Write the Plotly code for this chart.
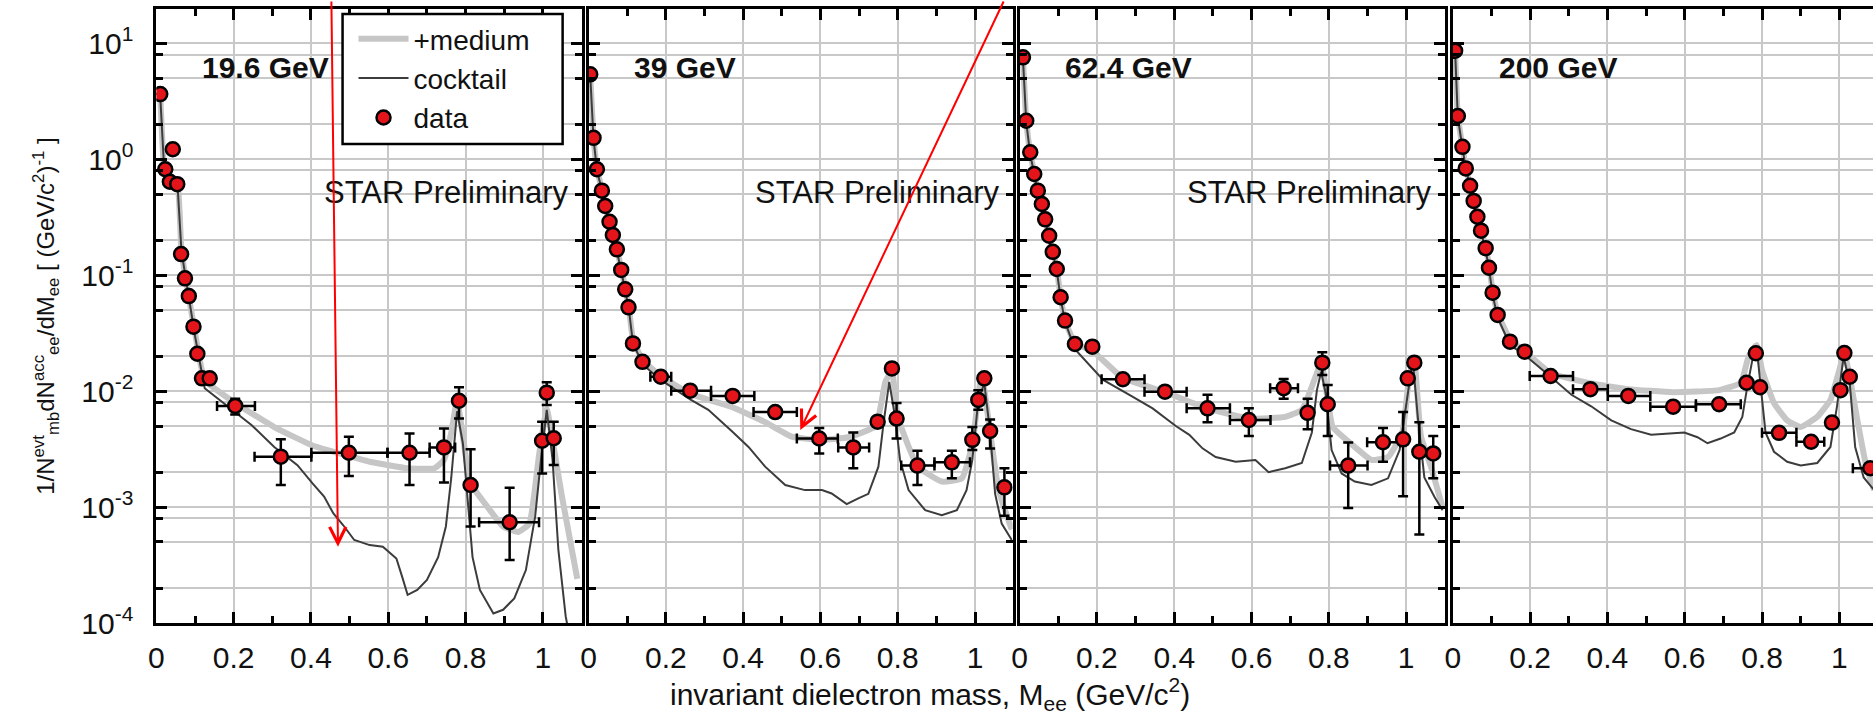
import math
import plotly.graph_objects as go

# ---------------- data ----------------
energies = ["19.6 GeV", "39 GeV", "62.4 GeV", "200 GeV"]
show_prelim = [True, True, True, False]

# ---- 19.6 GeV ----
m196 = [0.010, 0.023, 0.035, 0.0425, 0.054, 0.064, 0.074, 0.084, 0.096, 0.106, 0.118, 0.138,
        0.204, 0.322, 0.498, 0.655, 0.744, 0.783, 0.813, 0.914, 0.998, 1.010, 1.028]
y196 = [3.65, 0.82, 0.64, 1.22, 0.61, 0.152, 0.094, 0.066, 0.036, 0.021, 0.0129, 0.0129,
        0.00745, 0.00272, 0.00294, 0.00294, 0.00327, 0.00826, 0.00155, 0.00074, 0.00373, 0.0097, 0.00392]
xlo196 = [None]*12 + [0.157, 0.254, 0.401, 0.598, 0.707, None, None, 0.835, None, None, None]
xhi196 = [None]*12 + [0.255, 0.401, 0.598, 0.707, 0.773, None, None, 0.990, None, None, None]
ylo196 = [None]*12 + [0.0063, 0.00155, 0.00185, 0.00155, 0.00163, 0.00582, 0.00068, 0.00035, 0.00195, 0.0076, 0.00231]
yhi196 = [None]*12 + [0.0086, 0.00384, 0.00405, 0.00432, 0.00477, 0.0108, 0.00316, 0.00147, 0.00544, 0.0119, 0.00544]
ck_m196 = [0.005, 0.010, 0.020, 0.030, 0.045, 0.055, 0.065, 0.080, 0.100, 0.125, 0.207, 0.246, 0.305,
           0.365, 0.404, 0.434, 0.458, 0.483, 0.512, 0.552, 0.586, 0.621, 0.636, 0.650, 0.675, 0.700,
           0.729, 0.749, 0.763, 0.778, 0.793, 0.808, 0.818, 0.837, 0.872, 0.897, 0.926, 0.956, 0.980,
           0.995, 1.010, 1.025, 1.040, 1.059, 1.075]
ck_y196 = [3.6, 3.5, 0.85, 0.65, 0.62, 0.58, 0.16, 0.075, 0.03, 0.0106, 0.0065, 0.0051, 0.0033,
           0.0023, 0.0016, 0.00123, 0.00088, 0.0007, 0.00052, 0.00047, 0.000455, 0.00036, 0.00025,
           0.000175, 0.000193, 0.000235, 0.00037, 0.00068, 0.0018, 0.0067, 0.00355, 0.00083, 0.00037,
           0.000193, 0.000121, 0.00013, 0.000163, 0.000286, 0.00083, 0.00255, 0.0069, 0.00255, 0.00043,
           0.000114, 0.00006]
md_m196 = [0.010, 0.020, 0.030, 0.045, 0.055, 0.065, 0.080, 0.100, 0.125, 0.204, 0.305, 0.404, 0.474,
           0.552, 0.650, 0.719, 0.744, 0.763, 0.778, 0.793, 0.813, 0.857, 0.897, 0.936, 0.965, 0.990,
           1.010, 1.030, 1.050, 1.089]
md_y196 = [3.6, 0.85, 0.66, 0.64, 0.6, 0.16, 0.078, 0.032, 0.0125, 0.0079, 0.0049, 0.0034, 0.0029,
           0.00246, 0.00216, 0.00216, 0.00255, 0.0044, 0.0084, 0.0041, 0.0016, 0.001, 0.00068, 0.00061,
           0.00072, 0.0028, 0.0070, 0.0030, 0.0012, 0.00024]

# ---- 39 GeV ----
m39 = [0.0044, 0.013, 0.0217, 0.0346, 0.0432, 0.0544, 0.063, 0.0734, 0.0846, 0.095, 0.1035, 0.115,
       0.1397, 0.187, 0.263, 0.373, 0.483, 0.597, 0.685, 0.748, 0.785, 0.797, 0.851, 0.940, 0.993,
       1.0085, 1.024, 1.039, 1.076]
y39 = [5.4, 1.53, 0.82, 0.536, 0.395, 0.289, 0.222, 0.167, 0.111, 0.0755, 0.0528, 0.0258, 0.0179,
       0.0133, 0.0101, 0.0091, 0.0066, 0.0039, 0.00327, 0.00545, 0.0157, 0.0058, 0.00228, 0.00243,
       0.0038, 0.0084, 0.0129, 0.00453, 0.00148]
xlo39 = [None]*13 + [0.160, 0.214, 0.317, 0.427, 0.539, 0.646, None, None, None, 0.809, 0.895, None, None, None, None, None]
xhi39 = [None]*13 + [0.214, 0.317, 0.429, 0.539, 0.645, 0.726, None, None, None, 0.895, 0.987, None, None, None, None, None]
ylo39 = [None]*17 + [0.0029, 0.00216, None, None, 0.0039, 0.00155, 0.00177, 0.0031, 0.0069, None, 0.0032, 0.00084]
yhi39 = [None]*17 + [0.0048, 0.0044, None, None, 0.0079, 0.00306, 0.00306, 0.0049, 0.0102, None, 0.0057, 0.00216]
ck_m39 = [0.0044, 0.013, 0.022, 0.035, 0.043, 0.054, 0.063, 0.073, 0.085, 0.095, 0.104, 0.115, 0.14,
          0.187, 0.263, 0.31, 0.371, 0.414, 0.457, 0.509, 0.56, 0.604, 0.629, 0.668, 0.698, 0.724,
          0.75, 0.763, 0.778, 0.793, 0.806, 0.828, 0.871, 0.914, 0.953, 0.978, 0.993, 1.0085, 1.024,
          1.039, 1.052, 1.069, 1.095]
ck_y39 = [5.3, 1.5, 0.8, 0.53, 0.39, 0.285, 0.22, 0.165, 0.11, 0.074, 0.052, 0.026, 0.017, 0.0125,
          0.0085, 0.0069, 0.0045, 0.0033, 0.00223, 0.00155, 0.0014, 0.0014, 0.00131, 0.00106, 0.00119,
          0.0013, 0.00223, 0.0052, 0.012, 0.006, 0.00255, 0.0014, 0.00094, 0.00085, 0.00094, 0.0014,
          0.00255, 0.0084, 0.0117, 0.0044, 0.0013, 0.00072, 0.00052]
md_m39 = [0.0044, 0.013, 0.022, 0.035, 0.043, 0.054, 0.063, 0.073, 0.085, 0.095, 0.104, 0.115, 0.14,
          0.187, 0.263, 0.371, 0.457, 0.526, 0.595, 0.672, 0.743, 0.768, 0.785, 0.8, 0.852, 0.914,
          0.966, 0.993, 1.017, 1.039, 1.061, 1.095]
md_y39 = [5.4, 1.55, 0.82, 0.54, 0.4, 0.29, 0.225, 0.17, 0.113, 0.077, 0.054, 0.028, 0.0185, 0.0135,
          0.0095, 0.0073, 0.0054, 0.00405, 0.0038, 0.004, 0.005, 0.012, 0.015, 0.006, 0.00223, 0.00166,
          0.00177, 0.0035, 0.014, 0.0044, 0.0014, 0.00064]

# ---- 62.4 GeV ----
m624 = [0.0085, 0.017, 0.0274, 0.0377, 0.047, 0.0574, 0.066, 0.0763, 0.0857, 0.096, 0.106, 0.1174,
        0.143, 0.188, 0.267, 0.376, 0.486, 0.593, 0.683, 0.745, 0.783, 0.797, 0.850, 0.940, 0.992,
        1.004, 1.021, 1.034, 1.070]
y624 = [7.57, 2.15, 1.15, 0.746, 0.536, 0.411, 0.303, 0.219, 0.159, 0.113, 0.0645, 0.0406, 0.0255,
        0.0242, 0.01265, 0.0099, 0.0071, 0.00564, 0.0106, 0.0065, 0.0176, 0.0077, 0.00228, 0.00362,
        0.00384, 0.0129, 0.0176, 0.003, 0.0029]
xlo624 = [None]*14 + [0.212, 0.323, 0.432, 0.544, 0.648, None, None, None, 0.803, 0.899, None, None, None, None, None]
xhi624 = [None]*14 + [0.323, 0.432, 0.544, 0.649, 0.720, None, None, None, 0.900, 0.985, None, None, None, None, None]
ylo624 = [None]*16 + [0.0054, 0.0041, 0.0086, 0.0047, 0.0138, 0.0041, 0.00098, 0.00246, 0.00124, None, None, 0.00058, 0.00177]
yhi624 = [None]*16 + [0.0093, 0.0071, 0.0127, 0.0086, 0.0216, 0.0113, 0.0036, 0.0048, 0.0066, None, None, 0.0054, 0.0041]
ck_m624 = [0.0085, 0.017, 0.027, 0.038, 0.047, 0.057, 0.066, 0.076, 0.086, 0.096, 0.106, 0.117, 0.143,
           0.216, 0.284, 0.344, 0.404, 0.439, 0.473, 0.507, 0.559, 0.61, 0.644, 0.687, 0.73, 0.756,
           0.769, 0.78, 0.792, 0.807, 0.833, 0.867, 0.91, 0.953, 0.983, 1.0, 1.017, 1.03, 1.047, 1.073, 1.094]
ck_y624 = [7.4, 2.1, 1.12, 0.73, 0.52, 0.4, 0.295, 0.213, 0.155, 0.11, 0.063, 0.04, 0.023, 0.0125,
           0.0093, 0.0071, 0.005, 0.0042, 0.00321, 0.0027, 0.00246, 0.00255, 0.002, 0.00216, 0.0024,
           0.0044, 0.0102, 0.0147, 0.0095, 0.0031, 0.00195, 0.00166, 0.00155, 0.00177, 0.0031, 0.0079,
           0.0186, 0.006, 0.0018, 0.00123, 0.00094]
md_m624 = [0.0085, 0.017, 0.027, 0.038, 0.047, 0.057, 0.066, 0.076, 0.086, 0.096, 0.106, 0.117, 0.143,
           0.19, 0.267, 0.376, 0.486, 0.593, 0.687, 0.73, 0.769, 0.78, 0.797, 0.81, 0.867, 0.91, 0.953,
           0.99, 1.008, 1.021, 1.038, 1.064, 1.094]
md_y624 = [7.5, 2.15, 1.15, 0.75, 0.54, 0.41, 0.3, 0.22, 0.16, 0.113, 0.065, 0.041, 0.026, 0.022, 0.013,
           0.0098, 0.0071, 0.0058, 0.006, 0.0069, 0.0143, 0.018, 0.0084, 0.0049, 0.0033, 0.00255, 0.0027,
           0.0044, 0.0134, 0.018, 0.0041, 0.00223, 0.001]

# ---- 200 GeV ----
m200 = [0.006, 0.013, 0.025, 0.0335, 0.0447, 0.054, 0.0636, 0.073, 0.085, 0.0936, 0.103, 0.116, 0.148,
        0.186, 0.253, 0.356, 0.454, 0.570, 0.689, 0.760, 0.784, 0.795, 0.844, 0.927, 0.981, 1.003,
        1.013, 1.027, 1.080]
y200 = [8.63, 2.36, 1.28, 0.834, 0.591, 0.437, 0.319, 0.242, 0.171, 0.116, 0.0707, 0.0454, 0.0267,
        0.0219, 0.0135, 0.0104, 0.0091, 0.00734, 0.0077, 0.0118, 0.0212, 0.0108, 0.00437, 0.00366,
        0.00535, 0.0102, 0.0213, 0.0133, 0.00216]
xlo200 = [None]*14 + [0.199, 0.311, 0.401, 0.511, 0.629, None, None, None, 0.800, 0.889, None, None, None, None, 1.035]
xhi200 = [None]*14 + [0.311, 0.401, 0.511, 0.629, 0.745, None, None, None, 0.889, 0.961, None, None, None, None, 1.130]
ylo200 = [None]*29
yhi200 = [None]*29
ck_m200 = [0.006, 0.013, 0.025, 0.034, 0.045, 0.054, 0.064, 0.073, 0.085, 0.094, 0.103, 0.116, 0.148,
           0.186, 0.253, 0.307, 0.358, 0.41, 0.461, 0.513, 0.599, 0.633, 0.659, 0.693, 0.728, 0.749,
           0.762, 0.775, 0.786, 0.798, 0.809, 0.831, 0.865, 0.9, 0.943, 0.977, 0.994, 1.011, 1.027,
           1.041, 1.063, 1.09]
ck_y200 = [8.5, 2.3, 1.25, 0.82, 0.58, 0.43, 0.31, 0.235, 0.165, 0.112, 0.068, 0.043, 0.025, 0.0205,
           0.0133, 0.0093, 0.0074, 0.0056, 0.0047, 0.0042, 0.0044, 0.004, 0.00355, 0.0039, 0.0044, 0.006,
           0.011, 0.0186, 0.024, 0.0102, 0.0044, 0.003, 0.00246, 0.00228, 0.0024, 0.0033, 0.0074, 0.0198,
           0.0117, 0.0033, 0.0018, 0.0014]
md_m200 = [0.006, 0.013, 0.025, 0.034, 0.045, 0.054, 0.064, 0.073, 0.085, 0.094, 0.103, 0.116, 0.148,
           0.186, 0.253, 0.356, 0.454, 0.57, 0.689, 0.745, 0.765, 0.786, 0.8, 0.831, 0.865, 0.9, 0.943,
           0.977, 1.0, 1.013, 1.027, 1.045, 1.07, 1.09]
md_y200 = [8.6, 2.35, 1.28, 0.83, 0.59, 0.44, 0.32, 0.245, 0.175, 0.12, 0.073, 0.047, 0.028, 0.022,
           0.0143, 0.0117, 0.0104, 0.0098, 0.0102, 0.0118, 0.0198, 0.025, 0.0152, 0.0079, 0.0056, 0.0049,
           0.006, 0.0084, 0.0152, 0.0212, 0.0133, 0.006, 0.00223, 0.0014]

x_tickvals = [0, 0.2, 0.4, 0.6, 0.8, 1.0]
x_ticktext = ["0", "0.2", "0.4", "0.6", "0.8", "1"]
x_minor = [0.1, 0.3, 0.5, 0.7, 0.9]
y_tickvals = [1e-4, 1e-3, 1e-2, 1e-1, 1, 10]
y_ticktext = ["10<sup>-4</sup>", "10<sup>-3</sup>", "10<sup>-2</sup>", "10<sup>-1</sup>",
              "10<sup>0</sup>", "10<sup>1</sup>"]
y_minor = [m * 10.0 ** e for e in range(-4, 2) for m in (2, 5, 8)]

panels = [
    (m196, y196, xlo196, xhi196, ylo196, yhi196, ck_m196, ck_y196, md_m196, md_y196),
    (m39, y39, xlo39, xhi39, ylo39, yhi39, ck_m39, ck_y39, md_m39, md_y39),
    (m624, y624, xlo624, xhi624, ylo624, yhi624, ck_m624, ck_y624, md_m624, md_y624),
    (m200, y200, xlo200, xhi200, ylo200, yhi200, ck_m200, ck_y200, md_m200, md_y200),
]

# ---------------- layout geometry (pixels) ----------------
W, H = 1873, 714
MT, MB = 9, 91
PH = H - MT - MB
panel_px = [(149, 576), (583, 1009), (1016, 1443), (1451, 1873)]
unit_px = (576 - 149) / 1.1
FONT = "Liberation Sans, Arial, Helvetica, sans-serif"
TXT = "#111111"
GRID = "#c8c8c8"


def py(px_y):
    return (H - MB - px_y) / PH


def diff(a, b):
    return [None if (u is None or v is None) else (u - v) for u, v in zip(a, b)]


fig = go.Figure()

for i, (m, y, xlo, xhi, ylo, yhi, ckm, cky, mdm, mdy) in enumerate(panels):
    xa = "x" if i == 0 else f"x{i+1}"
    ya = "y" if i == 0 else f"y{i+1}"
    first = i == 0
    fig.add_trace(go.Scatter(x=mdm, y=mdy, mode="lines", name="+medium", xaxis=xa, yaxis=ya,
                             line=dict(color="#c6c6c6", width=6, shape="spline", smoothing=0.4),
                             showlegend=first, legendrank=1))
    fig.add_trace(go.Scatter(x=ckm, y=cky, mode="lines", name="cocktail", xaxis=xa, yaxis=ya,
                             line=dict(color="#3c3c3c", width=2),
                             showlegend=first, legendrank=2))
    fig.add_trace(go.Scatter(
        x=m, y=y, mode="markers", name="data", xaxis=xa, yaxis=ya, showlegend=first, legendrank=3,
        marker=dict(size=14, color="#e3151b", line=dict(color="#000000", width=2.5)),
        error_y=dict(type="data", symmetric=False, array=diff(yhi, y), arrayminus=diff(y, ylo),
                     color="#000000", thickness=2.5, width=5),
        error_x=dict(type="data", symmetric=False, array=diff(xhi, m), arrayminus=diff(m, xlo),
                     color="#000000", thickness=2.5, width=5),
    ))

layout = dict(
    width=W, height=H,
    margin=dict(l=0, r=0, t=MT, b=MB, pad=0),
    paper_bgcolor="white", plot_bgcolor="white",
    font=dict(family=FONT, size=30, color=TXT),
    showlegend=True,
    legend=dict(x=347 / W, y=py(14), xanchor="left", yanchor="top",
                bgcolor="rgba(0,0,0,0)", borderwidth=0, itemwidth=50,
                font=dict(size=28, family=FONT, color=TXT), tracegroupgap=0),
)

for i, (x0, x1) in enumerate(panel_px):
    xk = "xaxis" if i == 0 else f"xaxis{i+1}"
    yk = "yaxis" if i == 0 else f"yaxis{i+1}"
    yname = "y" if i == 0 else f"y{i+1}"
    xname = "x" if i == 0 else f"x{i+1}"
    xmax = (x1 - x0) / unit_px
    layout[xk] = dict(
        domain=[x0 / W, x1 / W], range=[0, xmax], anchor=yname,
        tickmode="array", tickvals=x_tickvals, ticktext=x_ticktext,
        ticks="inside", ticklen=11, tickwidth=2.5, tickcolor="#000",
        showline=True, linewidth=3, linecolor="#000", mirror="ticks",
        showgrid=True, gridcolor=GRID, gridwidth=2, zeroline=False,
        tickfont=dict(size=30, family=FONT, color=TXT), ticklabelstandoff=6,
        minor=dict(tickmode="array", tickvals=x_minor, ticks="inside", ticklen=7,
                   tickwidth=2.5, tickcolor="#000", showgrid=False),
        fixedrange=True,
    )
    layout[yk] = dict(
        domain=[0, 1], type="log", range=[-4, 1.296], anchor=xname,
        tickmode="array", tickvals=y_tickvals, ticktext=y_ticktext,
        ticks="inside", ticklen=11, tickwidth=2.5, tickcolor="#000",
        showline=True, linewidth=3, linecolor="#000", mirror=("ticks" if i < 3 else False),
        showgrid=True, gridcolor=GRID, gridwidth=2, zeroline=False,
        showticklabels=(i == 0),
        tickfont=dict(size=30, family=FONT, color=TXT), ticklabelstandoff=14,
        minor=dict(tickmode="array", tickvals=y_minor, ticks="inside", ticklen=7,
                   tickwidth=2.5, tickcolor="#000", showgrid=True, gridcolor=GRID, gridwidth=2),
        fixedrange=True,
    )

fig.update_layout(**layout)

annotations = []
shapes = []
for i, (x0, x1) in enumerate(panel_px):
    annotations.append(dict(xref="paper", yref="paper", x=(x0 + 44) / W, y=py(67),
                            xanchor="left", yanchor="middle", showarrow=False,
                            text="<b>%s</b>" % energies[i],
                            font=dict(size=30, family=FONT, color=TXT)))
    if show_prelim[i]:
        annotations.append(dict(xref="paper", yref="paper", x=(x1 - 11) / W, y=py(192),
                                xanchor="right", yanchor="middle", showarrow=False,
                                text="STAR Preliminary",
                                font=dict(size=31, family=FONT, color=TXT)))

# axis titles
annotations.append(dict(xref="paper", yref="paper", x=926 / W, y=py(694), xanchor="center",
                        yanchor="middle", showarrow=False,
                        text="invariant dielectron mass, M<sub>ee</sub> (GeV/c<sup>2</sup>)",
                        font=dict(size=30, family=FONT, color=TXT)))
annotations.append(dict(xref="paper", yref="paper", x=38 / W, y=py(316), xanchor="center",
                        yanchor="middle", showarrow=False, textangle=-90,
                        text="1/N<sup>evt</sup><sub>mb</sub>dN<sup>acc</sup><sub>ee</sub>/dM<sub>ee</sub>"
                             " [ (GeV/c<sup>2</sup>)<sup>-1</sup> ]",
                        font=dict(size=24, family=FONT, color=TXT)))

# red arrows
annotations.append(dict(xref="paper", yref="paper", x=331.4 / W, y=py(546.7), ax=-6.6, ay=-560,
                        axref="pixel", ayref="pixel", text="", showarrow=True, arrowhead=5,
                        arrowsize=1.6, arrowwidth=2, arrowcolor="#ff0000"))
annotations.append(dict(xref="paper", yref="paper", x=795.7 / W, y=py(430), ax=204, ay=-440,
                        axref="pixel", ayref="pixel", text="", showarrow=True, arrowhead=5,
                        arrowsize=1.6, arrowwidth=2, arrowcolor="#ff0000"))

# legend frame
shapes.append(dict(type="rect", xref="paper", yref="paper", x0=336 / W, x1=557 / W,
                   y0=py(144), y1=py(14), line=dict(color="#000", width=2.5),
                   fillcolor="white", layer="above"))

fig.update_layout(annotations=annotations, shapes=shapes)

fig.write_html("out.html", config={"displayModeBar": False},
               post_script="document.body.style.margin='0';")
